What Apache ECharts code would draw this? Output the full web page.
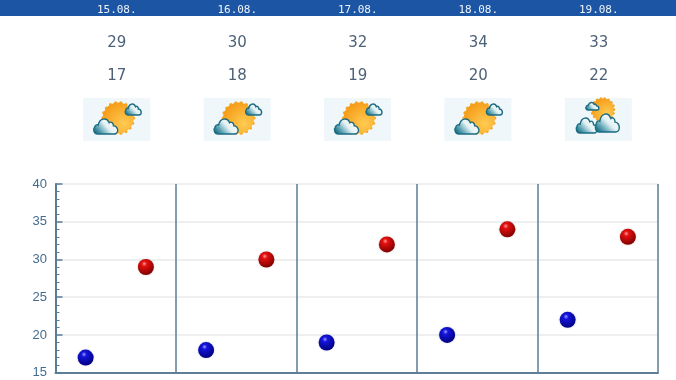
<!DOCTYPE html>
<html><head><meta charset="utf-8">
<style>html,body{margin:0;padding:0;background:#fff}#c{width:676px;height:380px}</style>
<script src="https://cdn.jsdelivr.net/npm/echarts@6/dist/echarts.min.js"></script>
</head><body><div id="c"></div>
<script>
const dates = ['15.08.','16.08.','17.08.','18.08.','19.08.'];
const highs = [29,30,32,34,33];
const lows = [17,18,19,20,22];
const icons = ['sun','sun','sun','sun','cloudy'];
const yTicks = [15,20,25,30,35,40];

const slots = dates.flatMap(d => [d+' min', d+' max']);
const chart = echarts.init(document.getElementById('c'), null, {renderer:'canvas'});
const CLOUD = 'M7 24 C1 24 -1 18 2 15 C3 12 6 11 8 12 C10 3 22 1 26 9 C29 7 33 9 33 13 C37 13 40 16 40 19 C40 22 37 24 34 24 Z';
function cloud(x,y,w,h){
  return {type:'path',shape:{pathData:CLOUD,layout:'cover',x:x,y:y,width:w,height:h},
    style:{fill:new echarts.graphic.LinearGradient(0.85,0,0.1,1,[{offset:0,color:'#ffffff'},{offset:0.45,color:'#e4f1f4'},{offset:0.75,color:'#5ba3b3'},{offset:1,color:'#0a5f74'}]),stroke:'#1a6c82',lineWidth:1.4}};
}
function sun(cx,cy,r){
  const parts=[];
  for(let i=0;i<18;i++){
    const a=i/18*Math.PI*2;
    parts.push({type:'circle',shape:{cx:cx+Math.cos(a)*r,cy:cy+Math.sin(a)*r,r:1.5},style:{fill:'#f5a420'}});
  }
  parts.push({type:'circle',shape:{cx:cx,cy:cy,r:r},
    style:{fill:new echarts.graphic.RadialGradient(0.68,0.68,0.8,[{offset:0,color:'#ffcb52'},{offset:1,color:'#f49813'}])}});
  return parts;
}
function iconItem(params, api){
  const p = api.coord([api.value(0), api.value(1)]);
  const kind = icons[params.dataIndex];
  let children = [{type:'rect',shape:{x:-33,y:-21.5,width:67,height:43},style:{fill:'#f0f7fb'}}];
  if(kind==='sun'){
    children = children.concat(sun(2,-1.5,15.5));
    children.push(cloud(9,-15.5,16,11), cloud(-22.5,-0.5,24,15));
  } else {
    children = children.concat(sun(5,-10,11));
    children.push(cloud(-12,-17,13,7.5), cloud(-21.5,-1.5,21,15), cloud(-2.5,-5.5,24,18));
  }
  return {type:'group',x:p[0],y:p[1],children:children};
}
const ball = (hi,mid,dark)=>new echarts.graphic.RadialGradient(0.4,0.3,0.72,[{offset:0,color:hi},{offset:0.22,color:mid},{offset:1,color:dark}]);
const topAxis = (data,offset,color,size,font)=>({
  type:'category',gridIndex:0,position:'top',offset:offset,data:data,
  axisLine:{show:false},axisTick:{show:false},splitLine:{show:false},z:5,
  axisLabel:{show:true,margin:0,interval:0,color:color,fontSize:size,fontFamily:font,verticalAlign:'middle',padding:[0,0,0,2]}
});
chart.setOption({
  animation:false,
  backgroundColor:'#ffffff',
  graphic:[{type:'rect',left:0,top:0,shape:{width:676,height:16},style:{fill:'#1c55a4'},z:-10}],
  grid:[
    {left:55.5,top:184,width:602.5,height:188.7},
    {left:56,top:98,width:602,height:43}
  ],
  xAxis:[
    {type:'category',gridIndex:0,data:slots,position:'bottom',
     axisLine:{show:true,lineStyle:{color:'#607f96',width:2}},axisTick:{show:false},axisLabel:{show:false},
     splitLine:{show:true,interval:1,showMinLine:false,lineStyle:{color:'#5a7d96',width:1.5}}},
    topAxis(dates,173.5,'#eef4fb',11,'"DejaVu Sans Mono","DejaVu Sans"'),
    topAxis(highs.map(String),141,'#4d6177',15,'"DejaVu Sans"'),
    topAxis(lows.map(String),108,'#4d6177',15,'"DejaVu Sans"'),
    {type:'category',gridIndex:1,data:dates,show:false}
  ],
  yAxis:[
    {type:'value',gridIndex:0,min:yTicks[0],max:yTicks[yTicks.length-1],interval:5,
     axisLine:{show:true,lineStyle:{color:'#5a7d96',width:2}},
     axisTick:{show:true,inside:true,length:7,lineStyle:{color:'#5a7d96',width:1.5}},
     minorTick:{show:true,splitNumber:5,length:4,lineStyle:{color:'#5a7d96',width:1}},
     axisLabel:{color:'#426c8e',fontSize:13,margin:8.5,fontFamily:'"Liberation Sans",Arial,sans-serif',padding:[4,0,0,0]},
     splitLine:{show:true,lineStyle:{color:'#e8eaec',width:1.5}}},
    {type:'value',gridIndex:1,min:0,max:2,show:false}
  ],
  series:[
    {type:'scatter',name:'min',xAxisIndex:0,yAxisIndex:0,symbolSize:16,clip:false,z:5,
     data:lows.map((v,i)=>[slots[i*2],v]),
     itemStyle:{color:ball('#9a9aff','#1414dc','#00007c'),shadowColor:'rgba(40,60,90,0.3)',shadowBlur:2,opacity:1}},
    {type:'scatter',name:'max',xAxisIndex:0,yAxisIndex:0,symbolSize:16,clip:false,z:5,
     data:highs.map((v,i)=>[slots[i*2+1],v]),
     itemStyle:{color:ball('#ff9a9a','#e41010','#7c0000'),shadowColor:'rgba(90,40,40,0.3)',shadowBlur:2,opacity:1}},
    {type:'custom',xAxisIndex:4,yAxisIndex:1,renderItem:iconItem,clip:false,silent:true,
     encode:{x:0,y:1},data:dates.map(d=>[d,1])}
  ]
});
</script></body></html>
